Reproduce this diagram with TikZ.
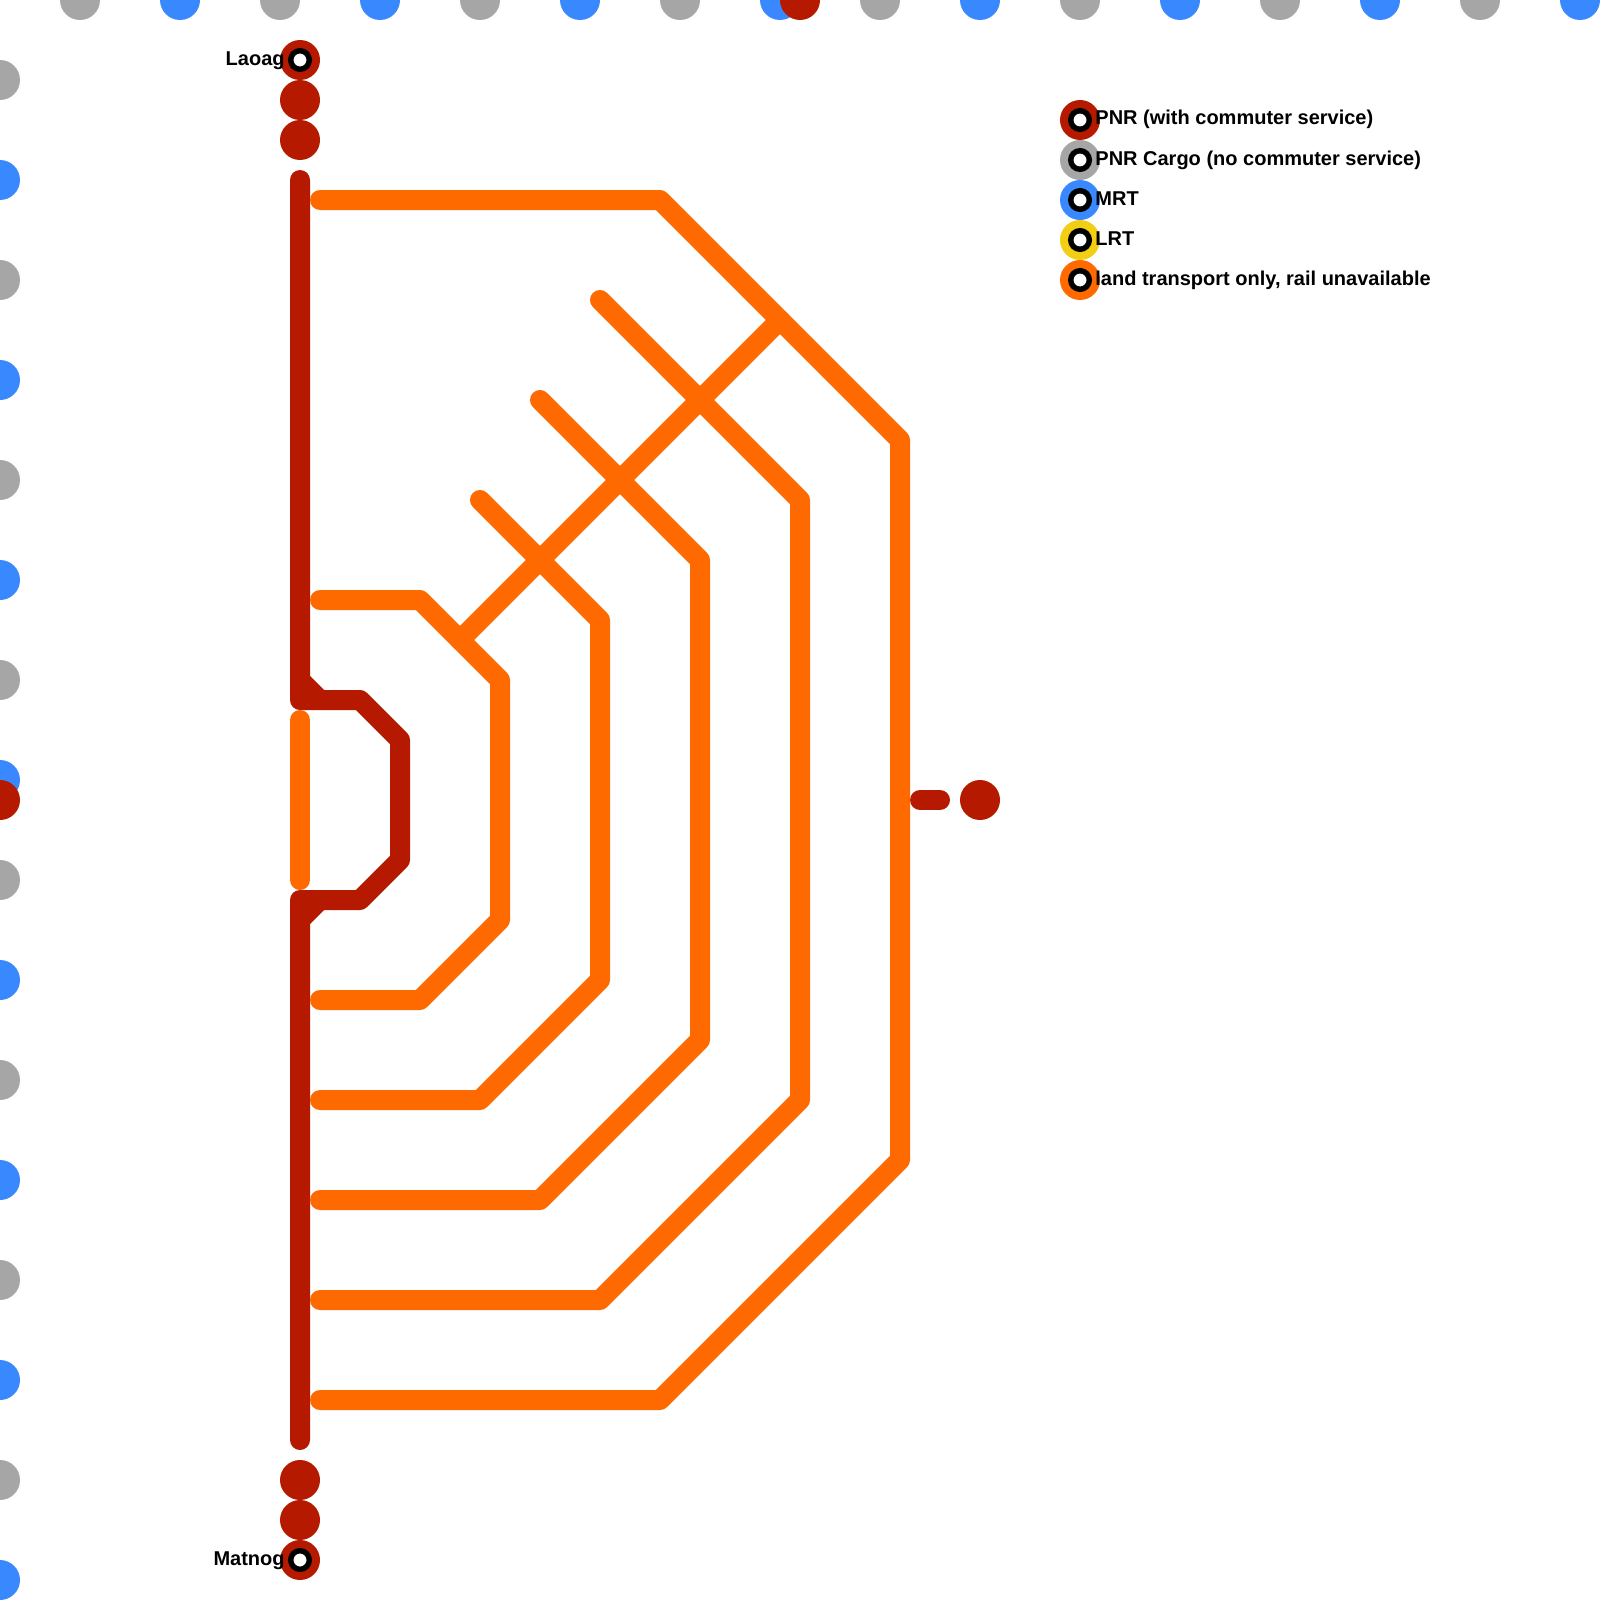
\documentclass[tikz,border=0pt]{standalone}
\usepackage{tikz}
\usepackage{fontspec}
\setmainfont{Liberation Sans}
\definecolor{pnrred}{HTML}{B51A00}
\definecolor{cargogrey}{HTML}{A6A6A6}
\definecolor{mrtblue}{HTML}{3A88FE}
\definecolor{lrtyellow}{HTML}{F2CF14}
\definecolor{roadorange}{HTML}{FF6A00}

\begin{document}
\begin{tikzpicture}[x=0.5pt,y=-0.5pt]
    % Define styles
    \tikzstyle{station} = [circle, inner sep=0pt, minimum size=20pt]
    \tikzstyle{terminus} = [circle, draw=black, fill=white, line width=2.7pt, inner sep=0pt, minimum size=9.3pt]
    \tikzstyle{track} = [line width=10pt, line cap=round, line join=round]
    \tikzstyle{rail} = [track, pnrred]
    \tikzstyle{road} = [track, roadorange]
    \tikzstyle{label} = [font=\bfseries\fontsize{10}{12}\selectfont, inner sep=0pt]

    \clip (0,0) rectangle (1600,1600);

    % Stations along the edges
    \foreach \i in {80,280,...,1480} {
        \node [station, fill=cargogrey] (topcargo\i) at (\i,0) {};
        \node [station, fill=cargogrey] (leftcargo\i) at (0,\i) {};
    }
    \foreach \i in {180,380,...,1580} {
        \node [station, fill=mrtblue] (topmrt\i) at (\i,0) {};
        \node [station, fill=mrtblue] (leftmrt\i) at (0,\i) {};
    }
    \node [station, fill=pnrred] (toppnr) at (800,0) {};
    \node [station, fill=pnrred] (leftpnr) at (0,800) {};

    % Stations on the main line
    \foreach \i in {60,100,140,1480,1520,1560} {
        \node [station, fill=pnrred] (pnr\i) at (300,\i) {};
    }
    \node [station, fill=pnrred] (branchend) at (980,800) {};
    \node [terminus] (laoagring) at (pnr60) {};
    \node [terminus] (matnogring) at (pnr1560) {};
    \node [label, anchor=base east] (laoag) at (285,66) {Laoag};
    \node [label, anchor=base east] (matnog) at (285,1565) {Matnog};

    % Rail
    \coordinate (northend) at (300,180);
    \coordinate (northturn) at (300,700);
    \coordinate (northcut) at (300,680);
    \coordinate (northfoot) at (320,700);
    \coordinate (loopa) at (360,700);
    \coordinate (loopb) at (400,740);
    \coordinate (loopc) at (400,860);
    \coordinate (loopd) at (360,900);
    \coordinate (southturn) at (300,900);
    \coordinate (southcut) at (300,920);
    \coordinate (southfoot) at (320,900);
    \coordinate (southend) at (300,1440);
    \coordinate (stubwest) at (920,800);
    \coordinate (stubeast) at (940,800);
    \draw [rail] (northend) -- (northturn) -- (loopa) -- (loopb) -- (loopc) -- (loopd) -- (southturn) -- (southend);
    \draw [rail] (northcut) -- (northfoot);
    \draw [rail] (southcut) -- (southfoot);
    \draw [rail] (stubwest) -- (stubeast);

    % Roads
    \coordinate (midn) at (300,720);
    \coordinate (mids) at (300,880);
    \draw [road] (midn) -- (mids);

    \coordinate (outa) at (320,200);
    \coordinate (outb) at (660,200);
    \coordinate (outc) at (900,440);
    \coordinate (outd) at (900,1160);
    \coordinate (oute) at (660,1400);
    \coordinate (outf) at (320,1400);
    \draw [road] (outa) -- (outb) -- (outc) -- (outd) -- (oute) -- (outf);

    \coordinate (foura) at (600,300);
    \coordinate (fourb) at (800,500);
    \coordinate (fourc) at (800,1100);
    \coordinate (fourd) at (600,1300);
    \coordinate (foure) at (320,1300);
    \draw [road] (foura) -- (fourb) -- (fourc) -- (fourd) -- (foure);

    \coordinate (threea) at (540,400);
    \coordinate (threeb) at (700,560);
    \coordinate (threec) at (700,1040);
    \coordinate (threed) at (540,1200);
    \coordinate (threee) at (320,1200);
    \draw [road] (threea) -- (threeb) -- (threec) -- (threed) -- (threee);

    \coordinate (twoa) at (480,500);
    \coordinate (twob) at (600,620);
    \coordinate (twoc) at (600,980);
    \coordinate (twod) at (480,1100);
    \coordinate (twoe) at (320,1100);
    \draw [road] (twoa) -- (twob) -- (twoc) -- (twod) -- (twoe);

    \coordinate (onea) at (320,600);
    \coordinate (oneb) at (420,600);
    \coordinate (onec) at (500,680);
    \coordinate (oned) at (500,920);
    \coordinate (onee) at (420,1000);
    \coordinate (onef) at (320,1000);
    \draw [road] (onea) -- (oneb) -- (onec) -- (oned) -- (onee) -- (onef);

    \coordinate (crossa) at (460,640);
    \coordinate (crossb) at (780,320);
    \draw [road] (crossa) -- (crossb);

    % Legend
    \node [station, fill=pnrred] (keypnr) at (1080,120) {};
    \node [station, fill=cargogrey] (keycargo) at (1080,160) {};
    \node [station, fill=mrtblue] (keymrt) at (1080,200) {};
    \node [station, fill=lrtyellow] (keylrt) at (1080,240) {};
    \node [station, fill=roadorange] (keyroad) at (1080,280) {};
    \foreach \k in {keypnr,keycargo,keymrt,keylrt,keyroad} {
        \node [terminus] (\k ring) at (\k) {};
    }
    \node [label, anchor=base west] (keypnrtext) at (1095,125) {PNR (with commuter service)};
    \node [label, anchor=base west] (keycargotext) at (1095,165) {PNR Cargo (no commuter service)};
    \node [label, anchor=base west] (keymrttext) at (1095,205) {MRT};
    \node [label, anchor=base west] (keylrttext) at (1095,245) {LRT};
    \node [label, anchor=base west] (keyroadtext) at (1095,285) {land transport only, rail unavailable};
\end{tikzpicture}
\end{document}
